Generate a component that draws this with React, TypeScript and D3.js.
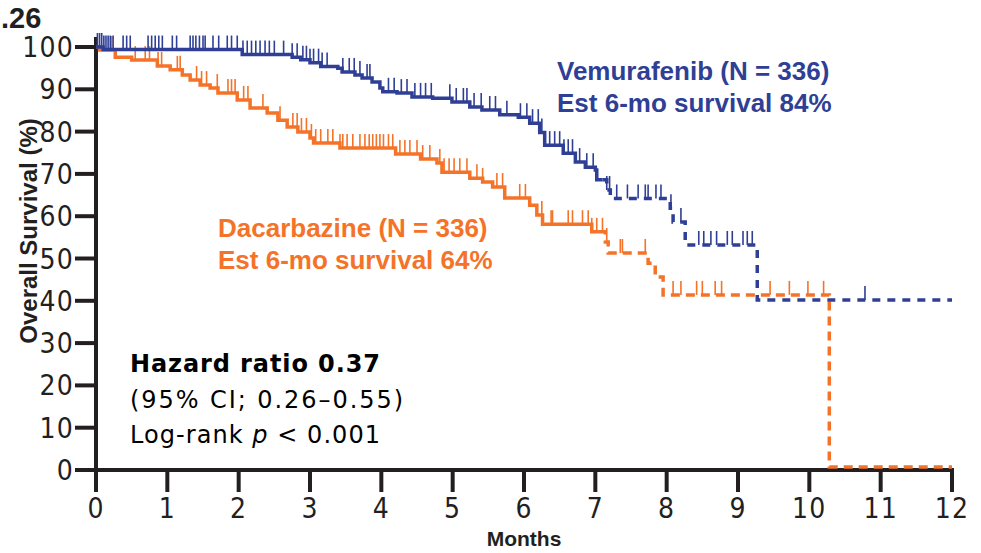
import React from "react";
import * as d3 from "d3";

// x axis (months) and y axis (overall survival %) ticks
const monthTicks = [0, 1, 2, 3, 4, 5, 6, 7, 8, 9, 10, 11, 12];
const survTicks = [0, 10, 20, 30, 40, 50, 60, 70, 80, 90, 100];

// Vemurafenib KM steps (month, survival %)
const vemTime = [0, 0.1, 2.05, 2.75, 2.87, 3.0, 3.15, 3.39, 3.45, 3.63, 3.73, 3.87, 3.98, 4.02, 4.22, 4.43, 4.72, 4.99, 5.24, 5.41, 5.66, 5.92, 6.08, 6.22, 6.29, 6.55, 6.72, 6.86, 7.0, 7.02, 7.16, 7.21, 8.05, 8.09, 8.26, 9.27];
const vemSurv = [100, 99.4, 98.2, 97.6, 97.0, 96.3, 95.4, 95.0, 94.1, 93.4, 92.7, 91.7, 90.3, 89.4, 89.1, 88.2, 87.9, 87.0, 85.8, 85.1, 84.0, 83.4, 82.0, 79.8, 76.8, 74.9, 72.8, 71.6, 70.9, 68.6, 66.2, 64.2, 61.9, 58.6, 53.2, 40.2];
const vemCensor = [0.02, 0.05, 0.08, 0.11, 0.14, 0.17, 0.2, 0.24, 0.38, 0.43, 0.48, 0.73, 0.78, 0.83, 0.88, 0.93, 1.07, 1.13, 1.32, 1.36, 1.4, 1.45, 1.5, 1.53, 1.64, 1.72, 1.84, 1.9, 1.98, 2.06, 2.12, 2.18, 2.24, 2.3, 2.37, 2.43, 2.5, 2.63, 2.75, 2.82, 2.9, 2.95, 3.0, 3.05, 3.12, 3.17, 3.24, 3.46, 3.55, 3.62, 3.7, 3.8, 3.84, 4.1, 4.18, 4.28, 4.36, 4.47, 4.55, 4.62, 4.7, 4.96, 5.05, 5.15, 5.2, 5.3, 5.4, 5.52, 5.6, 5.76, 5.95, 6.04, 6.12, 6.2, 6.25, 6.36, 6.43, 6.5, 6.56, 6.62, 6.68, 6.78, 6.88, 6.97, 7.16, 7.2, 7.3, 7.45, 7.6, 7.7, 7.74, 7.85, 7.92, 8.06, 8.2, 8.45, 8.52, 8.62, 8.7, 8.85, 8.92, 9.07, 9.13, 9.2, 10.78];

// Dacarbazine KM steps
const dacTime = [0, 0.05, 0.27, 0.5, 0.86, 1.04, 1.21, 1.32, 1.46, 1.6, 1.71, 1.98, 2.16, 2.4, 2.55, 2.68, 2.83, 3.0, 3.05, 3.42, 4.2, 4.55, 4.78, 4.85, 5.24, 5.42, 5.56, 5.73, 6.08, 6.18, 6.26, 6.95, 7.14, 7.18, 7.74, 7.84, 7.95, 10.28];
const dacSurv = [100, 99.3, 97.6, 96.9, 95.5, 94.6, 93.4, 92.2, 91.0, 90.3, 89.1, 87.5, 85.6, 84.4, 82.7, 81.1, 79.9, 78.5, 77.3, 76.1, 74.7, 73.5, 72.6, 70.4, 69.0, 68.1, 66.9, 64.3, 62.6, 60.3, 58.1, 56.3, 53.9, 51.3, 48.9, 45.6, 41.4, 0.7];
const dacCensor = [0.22, 0.55, 0.69, 0.75, 0.87, 0.92, 1.14, 1.18, 1.41, 1.48, 1.55, 1.7, 1.85, 1.9, 1.95, 2.07, 2.13, 2.34, 2.58, 2.76, 2.82, 2.88, 2.95, 3.02, 3.08, 3.15, 3.25, 3.32, 3.42, 3.46, 3.52, 3.6, 3.7, 3.77, 3.83, 3.88, 3.93, 3.98, 4.03, 4.1, 4.16, 4.26, 4.33, 4.4, 4.5, 4.58, 4.68, 4.82, 4.88, 4.95, 5.02, 5.1, 5.2, 5.34, 5.42, 5.62, 5.7, 5.94, 6.02, 6.25, 6.38, 6.4, 6.62, 6.68, 6.82, 6.9, 6.95, 7.02, 7.1, 7.16, 7.35, 7.38, 7.7, 8.09, 8.2, 8.42, 8.5, 8.68, 8.77, 9.45, 9.72, 9.98, 10.2];

const BLUE = "#2f3f95";
const ORANGE = "#f47328";
const INK = "#231f20";
const NARROW = "'Liberation Sans Narrow', 'DejaVu Sans Condensed', sans-serif";
const ARIAL = "'Liberation Sans', Arial, sans-serif";
const VERDANA = "'DejaVu Sans', Verdana, sans-serif";

const x = d3.scaleLinear().domain([0, 12]).range([96, 952]);
const y = d3.scaleLinear().domain([0, 100]).range([470, 47]);

const stepAt = (times: number[], surv: number[], t: number) => {
  let v = surv[0];
  for (let i = 0; i < times.length; i++) if (times[i] <= t) v = surv[i];
  return v;
};

// solid part up to cut, dashed after
const split = (times: number[], surv: number[], cut: number, end: number) => {
  const solid: [number, number][] = [];
  const dashed: [number, number][] = [];
  times.forEach((t, i) => {
    if (t < cut) solid.push([t, surv[i]]);
    else dashed.push([t, surv[i]]);
  });
  const vc = stepAt(times, surv, cut);
  solid.push([cut, vc]);
  dashed.unshift([cut, vc]);
  dashed.push([end, surv[surv.length - 1]]);
  return { solid, dashed };
};

const line = d3
  .line<[number, number]>()
  .x((d) => x(d[0]))
  .y((d) => y(d[1]))
  .curve(d3.curveStepAfter);

const Curve = ({ times, surv, censor, color, cut, dash }: any) => {
  const { solid, dashed } = split(times, surv, cut, 12);
  return (
    <g>
      <path d={line(solid) || ""} fill="none" stroke={color} strokeWidth={3.5} />
      <path d={line(dashed) || ""} fill="none" stroke={color} strokeWidth={3.5} strokeDasharray={dash} />
      {censor.map((t: number, i: number) => {
        const v = stepAt(times, surv, t);
        return (
          <line key={i} x1={x(t)} x2={x(t)} y1={y(v)} y2={y(v) - 14} stroke={color} strokeWidth={1.6} />
        );
      })}
    </g>
  );
};

export default function App() {
  return (
    <div style={{ position: "absolute", left: 0, top: 0 }}>
      <svg width={981} height={553} style={{ display: "block", background: "#fff" }}>
        <text x={1} y={28} fontFamily={ARIAL} fontWeight="bold" fontSize={29} fill={INK}>.26</text>

        {/* y axis */}
        <line x1={x(0)} x2={x(0)} y1={y(0) + 2} y2={37} stroke={INK} strokeWidth={4} />
        {survTicks.map((s) => (
          <g key={s}>
            <line x1={75} x2={x(0)} y1={y(s)} y2={y(s)} stroke={INK} strokeWidth={4} />
            <text x={74} y={y(s)} dy="0.36em" textAnchor="end" fontFamily={NARROW} fontSize={28} letterSpacing={1.2} fill={INK}>{s}</text>
          </g>
        ))}
        {/* x axis */}
        <line x1={x(0) - 2} x2={x(12) + 2} y1={y(0)} y2={y(0)} stroke={INK} strokeWidth={4} />
        {monthTicks.map((m) => (
          <g key={m}>
            <line x1={x(m)} x2={x(m)} y1={y(0)} y2={y(0) + 22} stroke={INK} strokeWidth={4} />
            <text x={x(m)} y={518} textAnchor="middle" fontFamily={NARROW} fontSize={28} letterSpacing={1.2} fill={INK}>{m}</text>
          </g>
        ))}
        <text x={(x(0) + x(12)) / 2} y={546} textAnchor="middle" fontFamily={ARIAL} fontWeight="bold" fontSize={21} fill={INK}>Months</text>
        <text transform="translate(37,231) rotate(-90)" textAnchor="middle" fontFamily={ARIAL} fontWeight="bold" fontSize={24} fill={INK}>Overall Survival (%)</text>

        <Curve times={dacTime} surv={dacSurv} censor={dacCensor} color={ORANGE} cut={7.05} dash="9,6" />
        <Curve times={vemTime} surv={vemSurv} censor={vemCensor} color={BLUE} cut={7.1} dash="8,7" />

        <text x={557} y={80} fontFamily={ARIAL} fontWeight="bold" fontSize={26} fill={BLUE}>Vemurafenib (N = 336)</text>
        <text x={557} y={112} fontFamily={ARIAL} fontWeight="bold" fontSize={26} fill={BLUE}>Est 6-mo survival 84%</text>
        <text x={218} y={237} fontFamily={ARIAL} fontWeight="bold" fontSize={26} fill={ORANGE}>Dacarbazine (N = 336)</text>
        <text x={218} y={269} fontFamily={ARIAL} fontWeight="bold" fontSize={26} fill={ORANGE}>Est 6-mo survival 64%</text>

        <text x={130} y={372} fontFamily={VERDANA} fontWeight="bold" fontSize={24} fill="#000" textLength={250} lengthAdjust="spacing">Hazard ratio 0.37</text>
        <text x={130} y={408} fontFamily={VERDANA} fontSize={24} fill="#000" textLength={273} lengthAdjust="spacing">(95% CI; 0.26–0.55)</text>
        <text x={130} y={443} fontFamily={VERDANA} fontSize={24} fill="#000" textLength={250} lengthAdjust="spacing">
          Log-rank <tspan fontStyle="italic">p</tspan> {"<"} 0.001
        </text>
      </svg>
    </div>
  );
}
